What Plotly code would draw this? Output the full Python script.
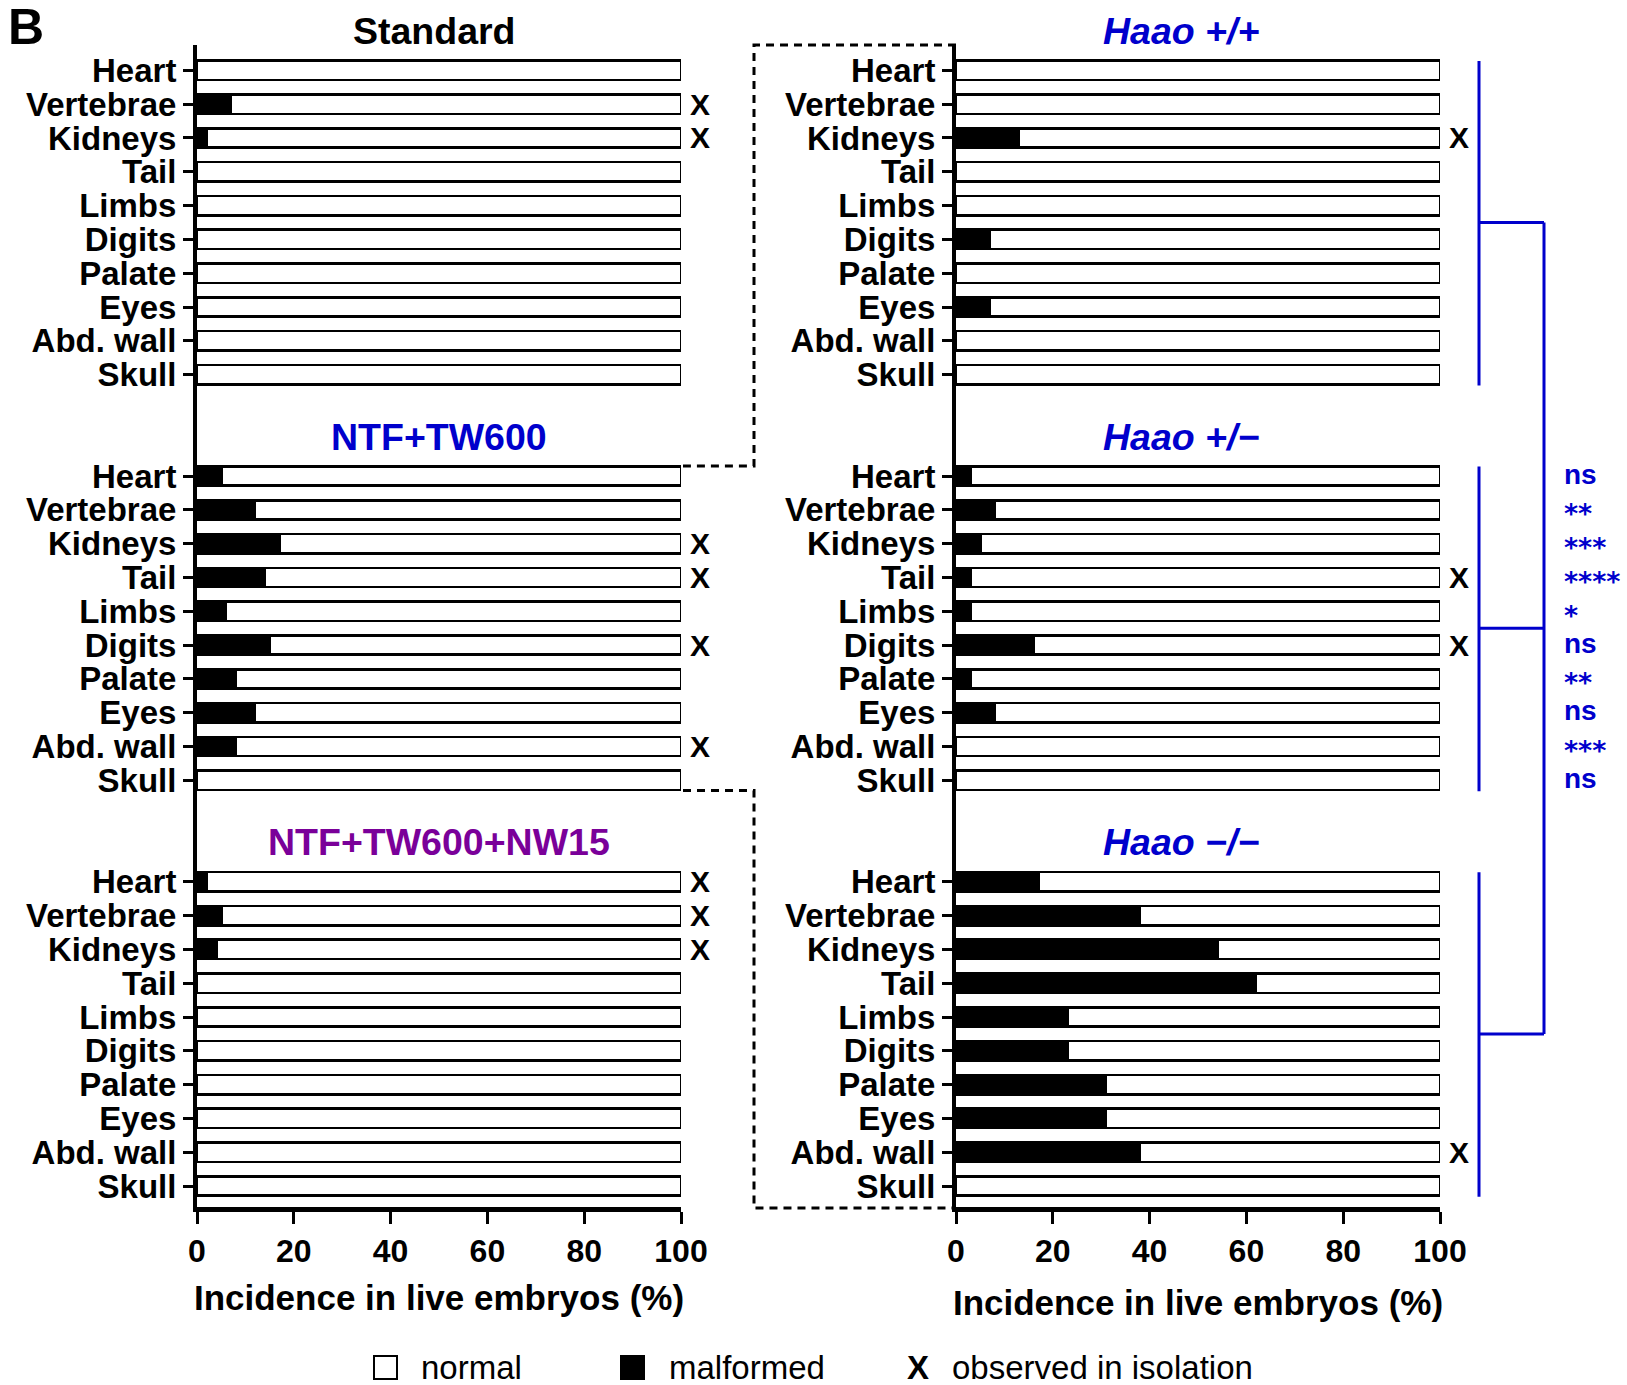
import plotly.graph_objects as go

# ---------------- data ----------------
categories = ["Heart", "Vertebrae", "Kidneys", "Tail", "Limbs",
              "Digits", "Palate", "Eyes", "Abd. wall", "Skull"]

# % malformed (incidence in live embryos)
standard       = [0, 7, 2, 0, 0, 0, 0, 0, 0, 0]
ntf_tw600      = [5, 12, 17, 14, 6, 15, 8, 12, 8, 0]
ntf_tw600_nw15 = [2, 5, 4, 0, 0, 0, 0, 0, 0, 0]
haao_wt        = [0, 0, 13, 0, 0, 7, 0, 7, 0, 0]
haao_het       = [3, 8, 5, 3, 3, 16, 3, 8, 0, 0]
haao_ko        = [17, 38, 54, 62, 23, 23, 31, 31, 38, 0]

# malformations observed in isolation (marked with X)
standard_iso       = ["Vertebrae", "Kidneys"]
ntf_tw600_iso      = ["Kidneys", "Tail", "Digits", "Abd. wall"]
ntf_tw600_nw15_iso = ["Heart", "Vertebrae", "Kidneys"]
haao_wt_iso        = ["Kidneys"]
haao_het_iso       = ["Tail", "Digits"]
haao_ko_iso        = ["Abd. wall"]

# significance (comparison column)
significance = ["ns", "**", "***", "****", "*", "ns", "**", "ns", "***", "ns"]

x_ticks = [0, 20, 40, 60, 80, 100]

# ---------------- layout constants ----------------
W, H = 1627, 1385
BLUE = "#0000CC"
PURPLE = "#7A0099"
FONT = "Liberation Sans, Arial, sans-serif"
PANEL_STEP = 12
Y_RANGE = [33.62, -0.75]
TOP_PX, BOT_PX = 45, 1207
LEFT_PX = (197, 681)
RIGHT_PX = (956, 1440)
LEFT_DOM = [LEFT_PX[0] / W, LEFT_PX[1] / W]
RIGHT_DOM = [RIGHT_PX[0] / W, RIGHT_PX[1] / W]
Y_DOM = [1 - BOT_PX / H, 1 - TOP_PX / H]


def row_px(r):
    return TOP_PX + (r - Y_RANGE[1]) / (Y_RANGE[0] - Y_RANGE[1]) * (BOT_PX - TOP_PX)


def py(px):
    return 1 - px / H


def pxx(px):
    return px / W


def val_px(col_px, v):
    return col_px[0] + v / 100 * (col_px[1] - col_px[0])


columns = [
    ("x", "y", LEFT_PX, [
        ("Standard", "black", False, standard, standard_iso, 49),
        ("NTF+TW600", BLUE, False, ntf_tw600, ntf_tw600_iso, 50),
        ("NTF+TW600+NW15", PURPLE, False, ntf_tw600_nw15, ntf_tw600_nw15_iso, 50),
    ]),
    ("x2", "y2", RIGHT_PX, [
        ("Haao +/+", BLUE, True, haao_wt, haao_wt_iso, 46.5),
        ("Haao +/\u2212", BLUE, True, haao_het, haao_het_iso, 46.5),
        ("Haao \u2212/\u2212", BLUE, True, haao_ko, haao_ko_iso, 46.5),
    ]),
]

fig = go.Figure()
annotations = []
shapes = []

for xa, ya, colpx, panels in columns:
    for p, (title, color, italic, vals, iso, tx) in enumerate(panels):
        ys = [p * PANEL_STEP + i for i in range(len(categories))]
        fig.add_trace(go.Bar(
            x=vals, y=ys, orientation="h", width=0.57,
            marker=dict(color="black", line=dict(color="black", width=2.6)),
            xaxis=xa, yaxis=ya, cliponaxis=False, hoverinfo="x+y",
            name="malformed"))
        fig.add_trace(go.Bar(
            x=[100 - v for v in vals], y=ys, orientation="h", width=0.57,
            marker=dict(color="white", line=dict(color="black", width=2.6)),
            xaxis=xa, yaxis=ya, cliponaxis=False, hoverinfo="x+y",
            name="normal"))
        txt = f"<i>{title}</i>" if italic else title
        annotations.append(dict(
            text=txt, x=pxx(val_px(colpx, tx)), y=py(row_px(p * PANEL_STEP - 1.17)),
            xref="paper", yref="paper", xanchor="center", yanchor="middle",
            showarrow=False,
            font=dict(family=FONT, size=37.5, color=color, weight="bold")))
        for cat in iso:
            r = p * PANEL_STEP + categories.index(cat)
            annotations.append(dict(
                text="X", x=pxx(val_px(colpx, 104)), y=py(row_px(r)),
                xref="paper", yref="paper", xanchor="center", yanchor="middle",
                showarrow=False,
                font=dict(family=FONT, size=30, color="black", weight="bold")))

tickvals = [p * PANEL_STEP + i for p in range(3) for i in range(len(categories))]
ticktext = categories * 3

yaxis_common = dict(
    range=Y_RANGE, domain=Y_DOM, tickvals=tickvals, ticktext=ticktext,
    showline=True, linewidth=4, linecolor="black", ticks="outside",
    ticklen=10, tickwidth=3, tickcolor="black", showgrid=False, zeroline=False,
    tickfont=dict(family=FONT, size=33, color="black", weight="bold"),
    automargin=False, fixedrange=True)
xaxis_common = dict(
    range=[0, 100], tickvals=x_ticks, showline=True, linewidth=5,
    linecolor="black", ticks="outside", ticklen=12, tickwidth=3,
    tickcolor="black", showgrid=False, zeroline=False,
    tickfont=dict(family=FONT, size=32, color="black", weight="bold"),
    automargin=False, fixedrange=True)

fig.update_layout(
    xaxis=dict(xaxis_common, domain=LEFT_DOM, anchor="y",
               title=dict(text="Incidence in live embryos (%)", standoff=19,
                          font=dict(family=FONT, size=35, color="black", weight="bold"))),
    yaxis=dict(yaxis_common, anchor="x"),
    xaxis2=dict(xaxis_common, domain=RIGHT_DOM, anchor="y2",
                title=dict(text="Incidence in live embryos (%)", standoff=24,
                           font=dict(family=FONT, size=35, color="black", weight="bold"))),
    yaxis2=dict(yaxis_common, anchor="x2"),
)

# significance labels
for i, s in enumerate(significance):
    r = PANEL_STEP + i
    star = "*" in s
    annotations.append(dict(
        text=s, x=pxx(1562), y=py(row_px(r)), xref="paper", yref="paper",
        xanchor="left", yanchor="middle", showarrow=False,
        yshift=-4 if star else 2,
        font=dict(family="DejaVu Sans, sans-serif" if star else FONT,
                  size=27 if star else 28, color=BLUE, weight="bold")))

# brackets
x_in, x_out = 1479, 1544
for p in range(3):
    top = row_px(p * PANEL_STEP - 0.28)
    bot = row_px(p * PANEL_STEP + 9.32)
    mid = row_px(p * PANEL_STEP + 4.5)
    shapes.append(dict(type="line", xref="paper", yref="paper",
                       x0=pxx(x_in), x1=pxx(x_in), y0=py(top), y1=py(bot),
                       line=dict(color=BLUE, width=3)))
    shapes.append(dict(type="line", xref="paper", yref="paper",
                       x0=pxx(x_in), x1=pxx(x_out), y0=py(mid), y1=py(mid),
                       line=dict(color=BLUE, width=3)))
shapes.append(dict(type="line", xref="paper", yref="paper",
                   x0=pxx(x_out), x1=pxx(x_out),
                   y0=py(row_px(4.5)), y1=py(row_px(2 * PANEL_STEP + 4.5)),
                   line=dict(color=BLUE, width=3)))

# dashed connectors
x_dash = 754
bar_end = 683
top_ntf = row_px(PANEL_STEP - 0.3)
bot_ntf = row_px(PANEL_STEP + 9.3)
path_top = (f"M {pxx(956)},{py(TOP_PX)} L {pxx(x_dash)},{py(TOP_PX)} "
            f"L {pxx(x_dash)},{py(top_ntf)} L {pxx(bar_end)},{py(top_ntf)}")
path_bot = (f"M {pxx(bar_end)},{py(bot_ntf)} L {pxx(x_dash)},{py(bot_ntf)} "
            f"L {pxx(x_dash)},{py(BOT_PX + 1)} L {pxx(956)},{py(BOT_PX + 1)}")
for pth in (path_top, path_bot):
    shapes.append(dict(type="path", path=pth, xref="paper", yref="paper",
                       line=dict(color="black", width=3, dash="8px,6px")))

# legend
leg_y = 1367
shapes.append(dict(type="rect", xref="paper", yref="paper",
                   x0=pxx(374), x1=pxx(397), y0=py(leg_y - 11), y1=py(leg_y + 12),
                   fillcolor="white", line=dict(color="black", width=2)))
shapes.append(dict(type="rect", xref="paper", yref="paper",
                   x0=pxx(621), x1=pxx(644), y0=py(leg_y - 11), y1=py(leg_y + 12),
                   fillcolor="black", line=dict(color="black", width=2)))
for text, xpos, bold in [("normal", 419, False), ("malformed", 667, False),
                         ("X", 905, True), ("observed in isolation", 950, False)]:
    annotations.append(dict(
        text=text, x=pxx(xpos), y=py(leg_y), xref="paper", yref="paper",
        xanchor="left", yanchor="middle", showarrow=False,
        font=dict(family=FONT, size=33, color="black",
                  weight="bold" if bold else "normal")))

# panel letter
annotations.append(dict(text="B", x=pxx(26), y=py(27), xref="paper", yref="paper",
                        xanchor="center", yanchor="middle", showarrow=False,
                        font=dict(family=FONT, size=50, color="black", weight="bold")))

fig.update_layout(
    width=W, height=H, barmode="stack", showlegend=False,
    margin=dict(l=0, r=0, t=0, b=0, autoexpand=False),
    paper_bgcolor="white", plot_bgcolor="white",
    annotations=annotations, shapes=shapes,
)

fig.write_html("out.html",
               config={"displayModeBar": False},
               post_script="document.body.style.margin='0px';")
